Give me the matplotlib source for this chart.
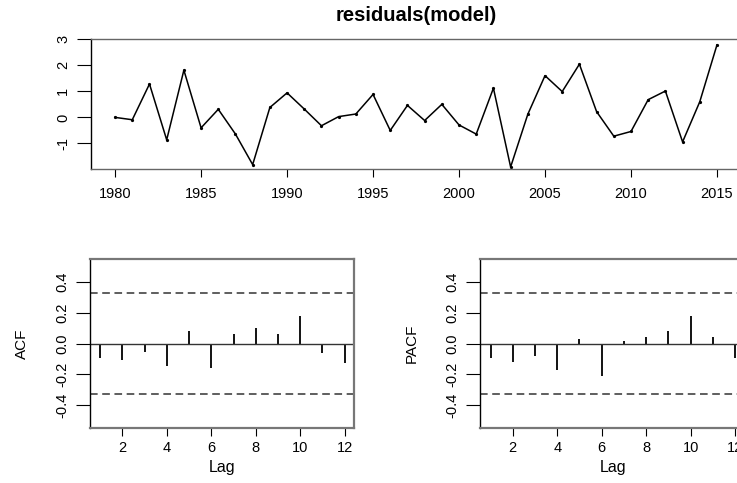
import matplotlib
matplotlib.use("Agg")
import matplotlib.pyplot as plt

plt.rcParams['font.family'] = ['Liberation Sans', 'DejaVu Sans']

# residual series
years = list(range(1980, 2016))
resid = [0.00, -0.09, 1.28, -0.86, 1.81, -0.40, 0.31, -0.64, -1.81, 0.38,
         0.94, 0.32, -0.32, 0.03, 0.13, 0.88, -0.50, 0.46, -0.12, 0.50,
         -0.29, -0.64, 1.12, -1.90, 0.12, 1.60, 0.99, 2.04, 0.22, -0.72,
         -0.54, 0.68, 1.01, -0.94, 0.60, 2.78]

lags = list(range(1, 13))
acf_vals = [-0.094, -0.109, -0.055, -0.144, 0.079, -0.159,
            0.061, 0.100, 0.061, 0.180, -0.062, -0.126]
pacf_vals = [-0.094, -0.116, -0.083, -0.174, 0.033, -0.213,
             0.018, 0.046, 0.085, 0.180, 0.046, -0.094]
ci = 0.327

fig = plt.figure(figsize=(7.37, 4.83), dpi=100)

# ───────── top: residual series ─────────
ax = fig.add_axes([0.1235, 0.650, 0.882, 0.269])
ax.plot(years, resid, color="black", lw=1.1, marker="o", ms=1.3)
ax.set_xlim(1978.6, 2016.4)
ax.set_ylim(-1.98, 3.0)
ax.set_xticks(range(1980, 2016, 5))
ax.set_yticks([-1, 0, 1, 2, 3])
ax.set_yticklabels(["-1", "0", "1", "2", "3"], rotation=90, va="center")
ax.set_title("residuals(model)", fontsize=14.5, fontweight="bold", pad=13)
for s in ax.spines.values():
    s.set_color("#666666")
    s.set_linewidth(1.0)
ax.spines["left"].set_color("black")
ax.tick_params(axis="x", direction="out", length=6, pad=7, labelsize=10.5)
ax.tick_params(axis="y", direction="out", length=10, pad=5, labelsize=10.5)


def corr_panel(rect, vals, ylabel):
    a = fig.add_axes(rect)
    a.vlines(lags, 0, vals, color="black", lw=1.3)
    a.axhline(0, color="#333333", lw=1.0)
    a.axhline(ci, color="#333333", lw=1.1, ls=(0, (5, 3)))
    a.axhline(-ci, color="#333333", lw=1.1, ls=(0, (5, 3)))
    a.set_xlim(0.54, 12.44)
    a.set_ylim(-0.545, 0.549)
    a.set_xticks([2, 4, 6, 8, 10, 12])
    a.set_yticks([-0.4, -0.2, 0.0, 0.2, 0.4])
    a.set_yticklabels(["-0.4", "-0.2", "0.0", "0.2", "0.4"], rotation=90, va="center")
    a.set_xlabel("Lag", fontsize=11.5, labelpad=4)
    a.set_ylabel(ylabel, fontsize=11, labelpad=19)
    for s in a.spines.values():
        s.set_color("#777777")
        s.set_linewidth(1.6)
    a.spines["left"].set_color("black")
    a.spines["left"].set_linewidth(1.0)
    a.tick_params(axis="x", direction="out", length=6, labelsize=10.5)
    a.tick_params(axis="y", direction="out", length=10, pad=5, labelsize=10.5)
    return a


corr_panel([0.122, 0.1145, 0.359, 0.3493], acf_vals, "ACF")
corr_panel([0.6517, 0.1145, 0.359, 0.3493], pacf_vals, "PACF")

fig.savefig("out.png", dpi=100)
